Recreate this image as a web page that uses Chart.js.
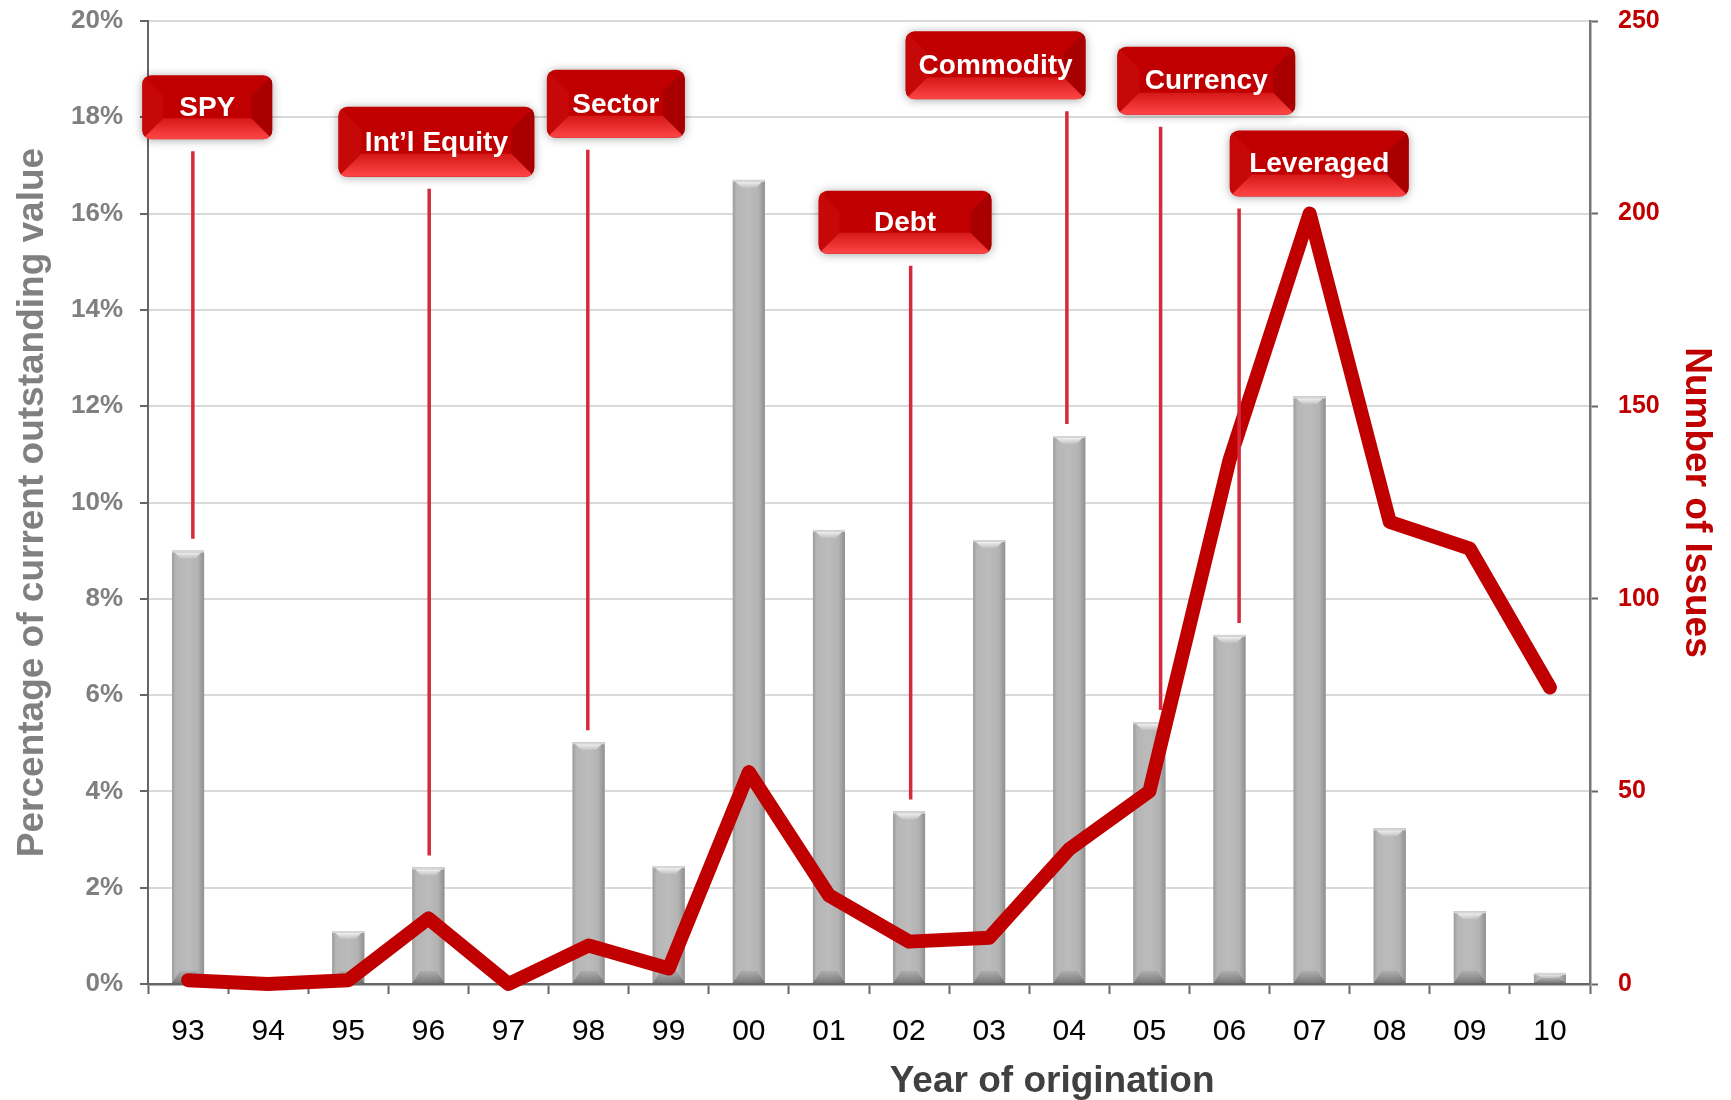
<!DOCTYPE html>
<html>
<head>
<meta charset="utf-8">
<script src="https://cdn.jsdelivr.net/npm/chart.js@4.4.1/dist/chart.umd.min.js"></script>
<style>
  html, body { margin: 0; padding: 0; background: #fff; }
</style>
</head>
<body>
<canvas id="chart" width="1731" height="1100"></canvas>
<script>
const FONT = '"Liberation Sans", Arial, sans-serif';

// data
const years = ['93', '94', '95', '96', '97', '98', '99', '00', '01', '02', '03', '04', '05', '06', '07', '08', '09', '10'];
const pctOfValue = [9.0, 0, 1.1, 2.42, 0, 5.02, 2.45, 16.7, 9.43, 3.58, 9.22, 11.38, 5.44, 7.25, 12.2, 3.23, 1.51, 0.23];
const issueCount = [1, 0, 1, 17, 0, 10, 4, 55, 23, 11, 12, 35, 50, 136, 200, 120, 113, 77];

const calloutLabels = ['SPY', 'Int\u2019l Equity', 'Sector', 'Debt', 'Commodity', 'Currency', 'Leveraged'];
const calloutYears = ['93', '96', '98', '02', '04', '05', '06'];

// where the callout buttons sit (offset in categories, height in % of left axis)
const calloutLayout = [
  { dx: 0.24, y: 18.21, w: 130, h: 64, lineDx: 0.06 },
  { dx: 0.10, y: 17.49, w: 196, h: 70, lineDx: 0.01 },
  { dx: 0.34, y: 18.28, w: 138, h: 68, lineDx: -0.01 },
  { dx: -0.05, y: 15.82, w: 173, h: 63, lineDx: 0.02 },
  { dx: -0.92, y: 19.08, w: 180, h: 68, lineDx: -0.03 },
  { dx: 0.71, y: 18.76, w: 178, h: 68, lineDx: 0.14 },
  { dx: 1.12, y: 17.04, w: 179, h: 66, lineDx: 0.12 }
];

function poly(ctx, pts, fill) {
  ctx.beginPath();
  ctx.moveTo(pts[0][0], pts[0][1]);
  for (let i = 1; i < pts.length; i++) ctx.lineTo(pts[i][0], pts[i][1]);
  ctx.closePath();
  ctx.fillStyle = fill;
  ctx.fill();
}

function shadeBar(ctx, l, t, w, b) {
  const h = b - t;
  if (h < 1) return;
  const g = ctx.createLinearGradient(l, 0, l + w, 0);
  g.addColorStop(0, '#9c9c9c');
  g.addColorStop(0.12, '#b6b6b6');
  g.addColorStop(0.5, '#bbbbbb');
  g.addColorStop(0.8, '#b3b3b3');
  g.addColorStop(1, '#8f8f8f');
  ctx.fillStyle = g;
  ctx.fillRect(l, t, w, h);
  // top bevel highlight
  const cap = Math.min(8, h / 2);
  ctx.fillStyle = '#d6d6d6';
  ctx.fillRect(l, t, w, 2);
  const hg = ctx.createLinearGradient(0, t, 0, t + cap);
  hg.addColorStop(0, 'rgba(255,255,255,1)');
  hg.addColorStop(1, 'rgba(255,255,255,0.1)');
  poly(ctx, [[l + 3, t + 2], [l + w - 3, t + 2], [l + w * 0.72, t + cap], [l + w * 0.28, t + cap]], hg);
  // bottom darker bevel
  const bc = Math.min(12, h / 2);
  const bg = ctx.createLinearGradient(0, b - bc, 0, b);
  bg.addColorStop(0, 'rgba(100,100,100,0.15)');
  bg.addColorStop(1, 'rgba(80,80,80,0.6)');
  poly(ctx, [[l + w * 0.25, b - bc], [l + w * 0.75, b - bc], [l + w, b], [l, b]], bg);
}

function drawButton(ctx, cx, cy, w, h, label) {
  const x = cx - w / 2, y = cy - h / 2, r = 9, b = Math.round(h * 0.33);
  ctx.save();
  ctx.shadowColor = 'rgba(0,0,0,0.35)';
  ctx.shadowBlur = 10;
  ctx.shadowOffsetY = 1;
  ctx.beginPath();
  ctx.roundRect(x, y, w, h, r);
  ctx.fillStyle = '#c00000';
  ctx.fill();
  ctx.shadowColor = 'transparent';
  ctx.clip();
  poly(ctx, [[x, y], [x + b, y + b], [x + b, y + h - b], [x, y + h]], '#c70808');
  poly(ctx, [[x + w, y], [x + w - b, y + b], [x + w - b, y + h - b], [x + w, y + h]], '#a80000');
  const g = ctx.createLinearGradient(0, y + h - b, 0, y + h);
  g.addColorStop(0, '#d51818');
  g.addColorStop(1, '#ff4646');
  poly(ctx, [[x, y + h], [x + b, y + h - b], [x + w - b, y + h - b], [x + w, y + h]], g);
  ctx.restore();
  ctx.save();
  ctx.fillStyle = '#ffffff';
  ctx.font = 'bold 28px ' + FONT;
  ctx.textAlign = 'center';
  ctx.textBaseline = 'middle';
  ctx.fillText(label, cx, cy + 1);
  ctx.restore();
}

const decorations = {
  id: 'decorations',
  afterDatasetDraw(chart, args) {
    if (args.index !== 0) return;
    const ctx = chart.ctx;
    ctx.save();
    chart.getDatasetMeta(0).data.forEach(el => {
      const p = el.getProps(['x', 'y', 'base', 'width'], true);
      shadeBar(ctx, p.x - p.width / 2, Math.min(p.y, p.base), p.width, Math.max(p.y, p.base));
    });
    ctx.restore();
  },
  afterDraw(chart) {
    const ctx = chart.ctx;
    const xs = chart.scales.x, ys = chart.scales.y;
    const cw = xs.width / years.length;

    calloutLabels.forEach((label, i) => {
      const L = calloutLayout[i];
      const idx = years.indexOf(calloutYears[i]);
      const cx = xs.getPixelForValue(idx);
      const by = ys.getPixelForValue(L.y);
      const lx = cx + L.lineDx * cw;
      const top = by + L.h / 2 + 12;
      const bottom = ys.getPixelForValue(pctOfValue[idx]) - 12;
      ctx.save();
      ctx.strokeStyle = '#d42a3c';
      ctx.lineWidth = 3.5;
      ctx.beginPath();
      ctx.moveTo(lx, top);
      ctx.lineTo(lx, bottom);
      ctx.stroke();
      ctx.restore();
      drawButton(ctx, cx + L.dx * cw, by, L.w, L.h, label);
    });

    // axis titles
    const area = chart.chartArea;
    const midY = (area.top + area.bottom) / 2;
    ctx.save();
    ctx.font = 'bold 37px ' + FONT;
    ctx.textAlign = 'center';
    ctx.textBaseline = 'alphabetic';

    ctx.fillStyle = '#808080';
    ctx.save();
    ctx.translate(43, midY);
    ctx.rotate(-Math.PI / 2);
    ctx.fillText('Percentage of current outstanding value', 0, 0);
    ctx.restore();

    ctx.fillStyle = '#c00000';
    ctx.save();
    ctx.translate(1686, midY);
    ctx.rotate(Math.PI / 2);
    ctx.fillText('Number of Issues', 0, 0);
    ctx.restore();

    ctx.fillStyle = '#404040';
    ctx.fillText('Year of origination', area.left + (area.right - area.left) * 0.627, 1092);
    ctx.restore();
  }
};

function fitY(width) {
  return s => {
    s.width = width;
    s.paddingTop = 0;
    s.paddingBottom = 0;
  };
}

new Chart(document.getElementById('chart'), {
  data: {
    labels: years,
    datasets: [
      {
        type: 'bar',
        label: 'Percentage of current outstanding value',
        data: pctOfValue,
        yAxisID: 'y',
        backgroundColor: '#b8b8b8',
        categoryPercentage: 1,
        barPercentage: 0.4,
        order: 1
      },
      {
        type: 'line',
        label: 'Number of issues',
        data: issueCount,
        yAxisID: 'y1',
        borderColor: '#c00000',
        borderWidth: 14,
        borderCapStyle: 'round',
        borderJoinStyle: 'round',
        pointRadius: 0,
        tension: 0,
        clip: false,
        order: 0
      }
    ]
  },
  options: {
    responsive: false,
    animation: false,
    layout: { padding: { top: 21, left: 0, right: 0, bottom: 0 } },
    plugins: { legend: { display: false }, tooltip: { enabled: false } },
    scales: {
      x: {
        grid: { offset: true, drawOnChartArea: false, tickLength: 10, tickColor: '#666', tickWidth: 2 },
        border: { color: '#666', width: 2.5 },
        ticks: { color: '#000', font: { family: FONT, size: 30 }, padding: 20, maxRotation: 0 },
        afterFit(s) { s.height = 116; }
      },
      y: {
        position: 'left',
        min: 0,
        max: 20,
        grid: { color: '#d9d9d9', lineWidth: 2, tickLength: 8, tickColor: '#666', tickWidth: 2 },
        border: { color: '#666', width: 2 },
        ticks: {
          stepSize: 2,
          color: '#7f7f7f',
          font: { family: FONT, size: 26, weight: 'bold' },
          padding: 17,
          callback: v => v + '%'
        },
        afterFit: fitY(148)
      },
      y1: {
        position: 'right',
        min: 0,
        max: 250,
        grid: { drawOnChartArea: false, tickLength: 8, tickColor: '#666', tickWidth: 2 },
        border: { color: '#777', width: 2.5 },
        ticks: {
          stepSize: 50,
          color: '#c00000',
          font: { family: FONT, size: 25, weight: 'bold' },
          padding: 20
        },
        afterFit: fitY(141)
      }
    }
  },
  plugins: [decorations]
});
</script>
</body>
</html>
